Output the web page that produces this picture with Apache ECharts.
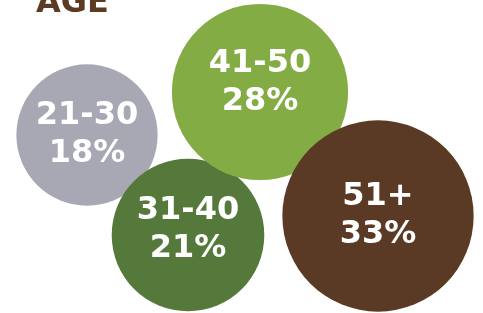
<!DOCTYPE html>
<html>
<head>
<meta charset="utf-8">
<script src="https://cdn.jsdelivr.net/npm/echarts@6/dist/echarts.min.js"></script>
<style>
  html, body { margin: 0; padding: 0; background: #fff; }
  #chart { width: 483px; height: 313px; }
</style>
</head>
<body>
<div id="chart"></div>
<script>
// age groups and their share (%)
const ageGroups = ['21-30', '31-40', '41-50', '51+']
const shares = [18, 21, 28, 33]
// bubble layout (chart units)
const layoutX = [87, 188, 260, 378]
const layoutY = [135, 235, 92, 216]
const colors = ['#a7a8b4', '#55793b', '#84ac44', '#5a3a25']
const labelShift = [0, -5, -9, 0]

const chart = echarts.init(document.getElementById('chart'))

const option = {
  animation: false,
  title: {
    text: 'AGE',
    left: 31,
    top: -17,
    textStyle: {
      fontFamily: 'DejaVu Sans',
      fontWeight: 'bold',
      fontSize: 32,
      color: '#5c3a23'
    }
  },
  grid: { left: 0, right: 0, top: 0, bottom: 0 },
  xAxis: { type: 'value', min: 0, max: 483, show: false },
  yAxis: { type: 'value', min: 0, max: 313, inverse: true, show: false },
  series: [{
    type: 'scatter',
    symbol: 'circle',
    symbolSize: (val) => 33.3 * Math.sqrt(val[2]),
    data: ageGroups.map((name, i) => ({
      name,
      value: [layoutX[i], layoutY[i], shares[i]],
      itemStyle: { color: colors[i], opacity: 1 },
      label: { offset: [0, labelShift[i]] }
    })),
    label: {
      show: true,
      position: 'inside',
      formatter: (p) => p.name + '\n' + p.value[2] + '%',
      fontFamily: 'DejaVu Sans',
      fontWeight: 'bold',
      fontSize: 32,
      lineHeight: 38,
      color: '#ffffff',
      align: 'center'
    },
    emphasis: { disabled: true }
  }]
}

chart.setOption(option)
</script>
</body>
</html>
